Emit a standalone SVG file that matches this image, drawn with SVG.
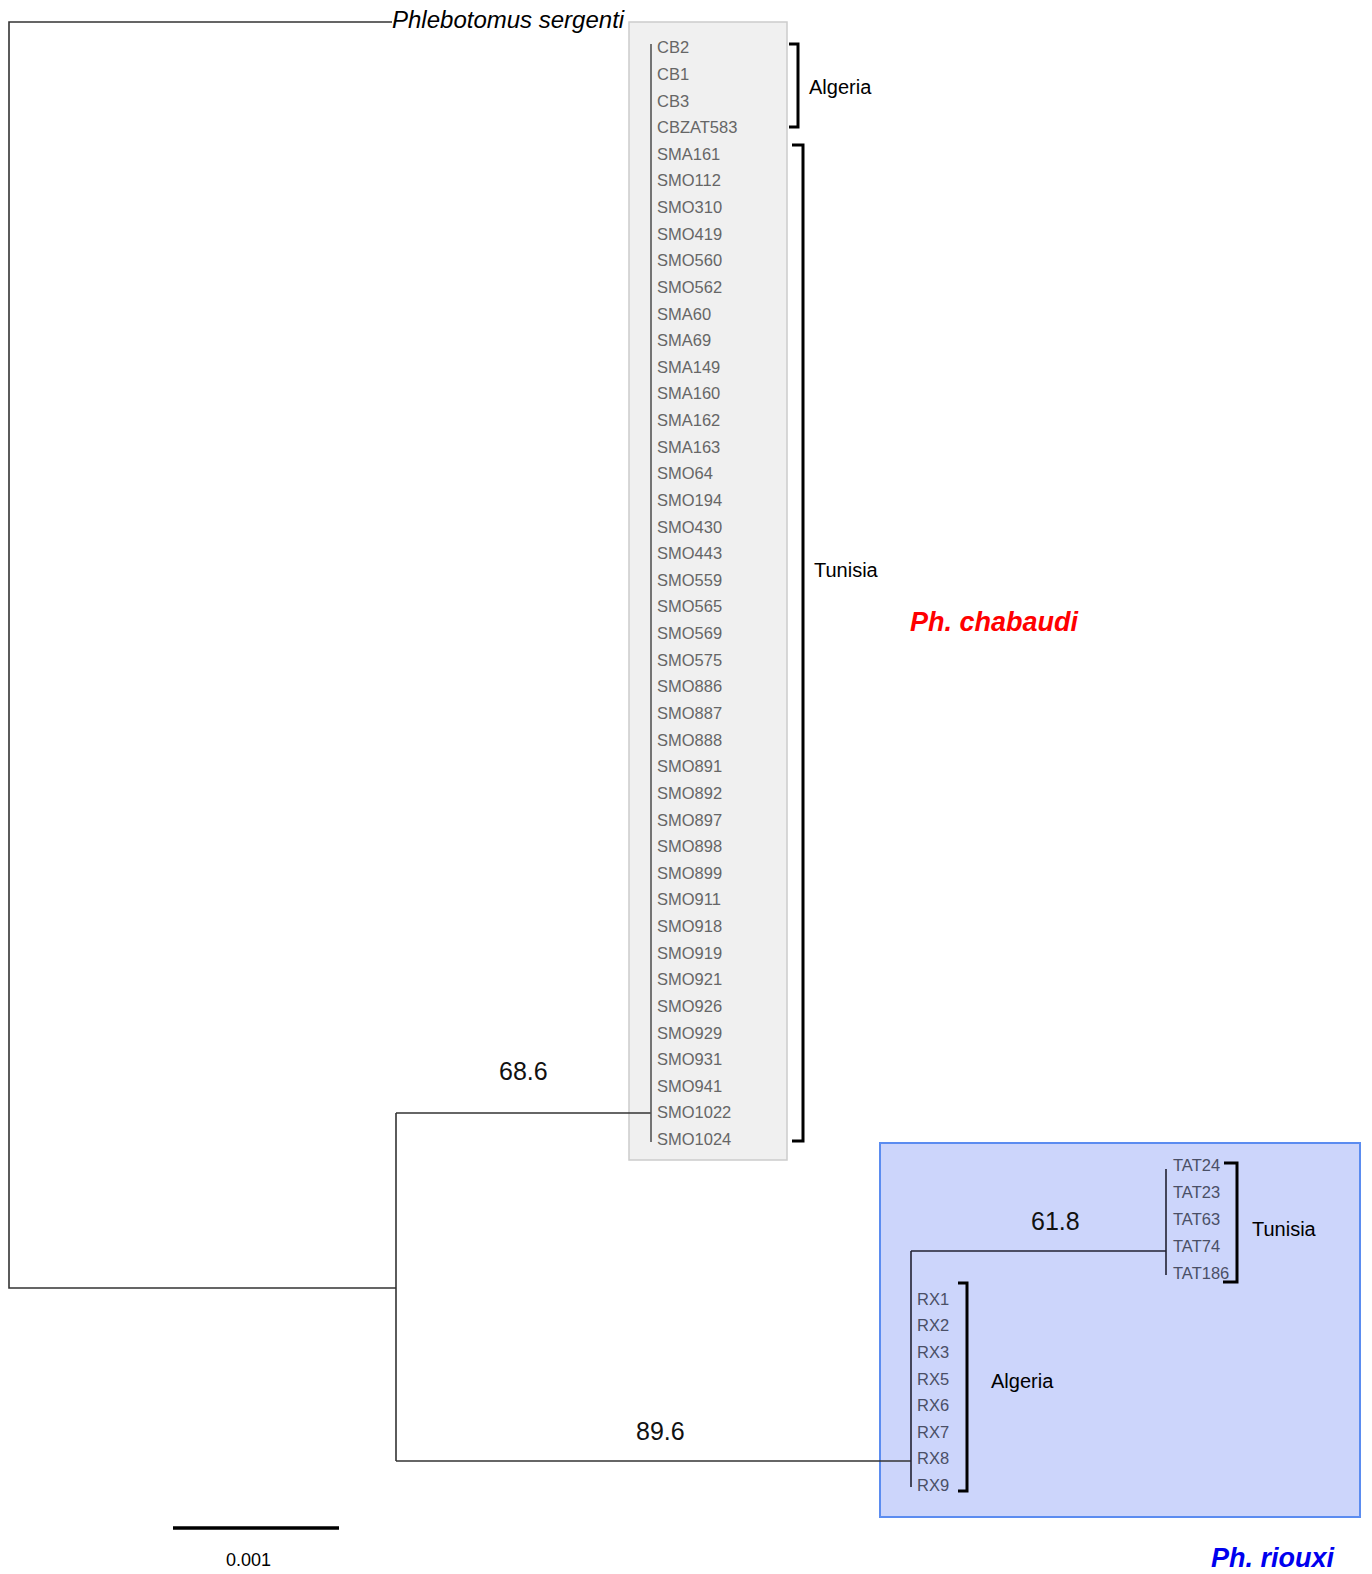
<svg xmlns="http://www.w3.org/2000/svg" width="1372" height="1574" viewBox="0 0 1372 1574">
<style>
.br{fill:none;stroke:#333;stroke-width:1.6}
.bk{fill:none;stroke:#000;stroke-width:3}
.tip{font-family:"Liberation Sans",Arial,sans-serif;font-size:16.5px;fill:#666}
.tipb{font-family:"Liberation Sans",Arial,sans-serif;font-size:16.5px;fill:#4a4f66}
.lab{font-family:"Liberation Sans",Arial,sans-serif;font-size:20px;fill:#000}
.num{font-family:"Liberation Sans",Arial,sans-serif;font-size:25px;fill:#111}
.sp{font-family:"Liberation Sans",Arial,sans-serif;font-size:27px;font-weight:bold;font-style:italic}
</style>
<rect width="1372" height="1574" fill="#fff"/>
<g id="chabaudi-box">
<rect x="629" y="22" width="158" height="1138" fill="#f0f0f0" stroke="#ccc" stroke-width="1.5"/>
</g>
<g id="riouxi-box">
<rect x="880" y="1143" width="480" height="374" fill="#ccd5fb" stroke="#5b8cf0" stroke-width="2"/>
</g>
<g id="connectors">
<path class="br" d="M392 22 H9 V1288 H396"/>
<path class="br" d="M396 1113 V1461"/>
<path class="br" d="M396 1113 H651"/>
<path class="br" d="M396 1461 H911"/>
<path d="M651 44 V1142" fill="none" stroke="#555" stroke-width="1.6"/>
<path d="M911 1251 V1487 M911 1251 H1166 M1166 1169 V1275" fill="none" stroke="#223" stroke-width="1.6"/>
</g>
<g id="outgroup">
<text x="392" y="28" font-family="Liberation Sans,Arial,sans-serif" font-size="24" font-style="italic" fill="#000">Phlebotomus sergenti</text>
</g>
<g id="chabaudi-tips" class="tip">
<text class="tip" x="657" y="53.2">CB2</text>
<text class="tip" x="657" y="79.8">CB1</text>
<text class="tip" x="657" y="106.5">CB3</text>
<text class="tip" x="657" y="133.1">CBZAT583</text>
<text class="tip" x="657" y="159.7">SMA161</text>
<text class="tip" x="657" y="186.4">SMO112</text>
<text class="tip" x="657" y="213.0">SMO310</text>
<text class="tip" x="657" y="239.6">SMO419</text>
<text class="tip" x="657" y="266.2">SMO560</text>
<text class="tip" x="657" y="292.9">SMO562</text>
<text class="tip" x="657" y="319.5">SMA60</text>
<text class="tip" x="657" y="346.1">SMA69</text>
<text class="tip" x="657" y="372.8">SMA149</text>
<text class="tip" x="657" y="399.4">SMA160</text>
<text class="tip" x="657" y="426.0">SMA162</text>
<text class="tip" x="657" y="452.7">SMA163</text>
<text class="tip" x="657" y="479.3">SMO64</text>
<text class="tip" x="657" y="505.9">SMO194</text>
<text class="tip" x="657" y="532.5">SMO430</text>
<text class="tip" x="657" y="559.2">SMO443</text>
<text class="tip" x="657" y="585.8">SMO559</text>
<text class="tip" x="657" y="612.4">SMO565</text>
<text class="tip" x="657" y="639.1">SMO569</text>
<text class="tip" x="657" y="665.7">SMO575</text>
<text class="tip" x="657" y="692.3">SMO886</text>
<text class="tip" x="657" y="719.0">SMO887</text>
<text class="tip" x="657" y="745.6">SMO888</text>
<text class="tip" x="657" y="772.2">SMO891</text>
<text class="tip" x="657" y="798.8">SMO892</text>
<text class="tip" x="657" y="825.5">SMO897</text>
<text class="tip" x="657" y="852.1">SMO898</text>
<text class="tip" x="657" y="878.7">SMO899</text>
<text class="tip" x="657" y="905.4">SMO911</text>
<text class="tip" x="657" y="932.0">SMO918</text>
<text class="tip" x="657" y="958.6">SMO919</text>
<text class="tip" x="657" y="985.3">SMO921</text>
<text class="tip" x="657" y="1011.9">SMO926</text>
<text class="tip" x="657" y="1038.5">SMO929</text>
<text class="tip" x="657" y="1065.1">SMO931</text>
<text class="tip" x="657" y="1091.8">SMO941</text>
<text class="tip" x="657" y="1118.4">SMO1022</text>
<text class="tip" x="657" y="1145.0">SMO1024</text>
</g>
<g id="chabaudi-groups">
<path class="bk" d="M789 44 H798 V127 H789"/>
<text class="lab" x="809" y="94">Algeria</text>
<path class="bk" d="M792 145 H803 V1141 H792"/>
<text class="lab" x="814" y="577">Tunisia</text>
<text class="sp" x="910" y="631" fill="#ff0000">Ph. chabaudi</text>
</g>
<g id="riouxi-tips">
<text class="tipb" x="1173" y="1171">TAT24</text>
<text class="tipb" x="1173" y="1198">TAT23</text>
<text class="tipb" x="1173" y="1225">TAT63</text>
<text class="tipb" x="1173" y="1252">TAT74</text>
<text class="tipb" x="1173" y="1279">TAT186</text>
<text class="tipb" x="917" y="1305">RX1</text>
<text class="tipb" x="917" y="1331">RX2</text>
<text class="tipb" x="917" y="1358">RX3</text>
<text class="tipb" x="917" y="1385">RX5</text>
<text class="tipb" x="917" y="1411">RX6</text>
<text class="tipb" x="917" y="1438">RX7</text>
<text class="tipb" x="917" y="1464">RX8</text>
<text class="tipb" x="917" y="1491">RX9</text>
</g>
<g id="riouxi-groups">
<path class="bk" d="M1224 1163 H1237 V1282 H1223"/>
<text class="lab" x="1252" y="1236">Tunisia</text>
<path class="bk" d="M958 1283 H967 V1491 H958"/>
<text class="lab" x="991" y="1388">Algeria</text>
<text class="sp" x="1211" y="1567" fill="#0000ee">Ph. riouxi</text>
</g>
<g id="support">
<text class="num" x="499" y="1080">68.6</text>
<text class="num" x="1031" y="1230">61.8</text>
<text class="num" x="636" y="1440">89.6</text>
</g>
<g id="scale">
<path d="M173 1528 H339" stroke="#000" stroke-width="3.5"/>
<text x="226" y="1566" font-family="Liberation Sans,Arial,sans-serif" font-size="18" fill="#000">0.001</text>
</g>
</svg>
